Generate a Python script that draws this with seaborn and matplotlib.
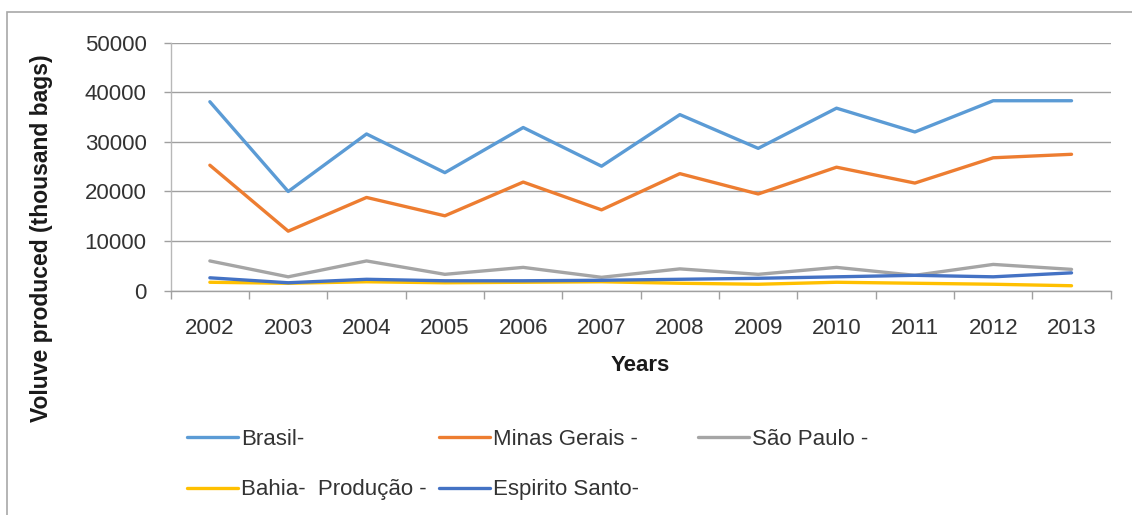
import matplotlib
matplotlib.use("Agg")
import matplotlib.pyplot as plt
import seaborn as sns
import pandas as pd
from matplotlib.patches import Rectangle
from matplotlib.ticker import MultipleLocator, FixedLocator

years = [2002, 2003, 2004, 2005, 2006, 2007, 2008, 2009, 2010, 2011, 2012, 2013]
brasil = [38100, 20000, 31600, 23800, 32900, 25100, 35500, 28700, 36800, 32000, 38300, 38300]
minas = [25300, 12000, 18800, 15100, 21900, 16300, 23600, 19500, 24900, 21700, 26800, 27500]
sao_paulo = [6000, 2800, 6000, 3300, 4700, 2700, 4400, 3300, 4700, 3100, 5300, 4300]
bahia = [1700, 1500, 1800, 1600, 1700, 1800, 1500, 1300, 1700, 1500, 1300, 1000]
espirito = [2600, 1600, 2300, 2000, 2000, 2100, 2300, 2500, 2800, 3100, 2800, 3600]

series_names = ["Brasil-", "Minas Gerais -", "São Paulo -", "Bahia-  Produção -", "Espirito Santo-"]
series_values = [brasil, minas, sao_paulo, bahia, espirito]
colors = ["#5B9BD5", "#ED7D31", "#A5A5A5", "#FFC000", "#4472C4"]

rows = []
for name, vals in zip(series_names, series_values):
    for y, v in zip(years, vals):
        rows.append({"Year": y, "Value": v, "Series": name})
df = pd.DataFrame(rows)

sns.set_theme(style="white")
plt.rcParams["font.family"] = ["Liberation Sans", "DejaVu Sans"]

W, H = 1132, 515
fig = plt.figure(figsize=(W / 100, H / 100), dpi=100)
ax = fig.add_axes([170.7 / W, 1 - 290.7 / H, 940 / W, 248 / H])

sns.lineplot(data=df, x="Year", y="Value", hue="Series", hue_order=series_names,
             palette=colors, linewidth=2.4, ax=ax, legend=False, sort=False)

ax.set_xlim(2001.5, 2013.5)
ax.set_ylim(0, 50000)
ax.yaxis.set_major_locator(MultipleLocator(10000))
ax.grid(axis="y", color="#A0A0A0", linewidth=1.0)
ax.grid(axis="x", visible=False)
ax.set_axisbelow(True)

for s in ["top", "right"]:
    ax.spines[s].set_visible(False)
ax.spines["left"].set_color("#B8B8B8")
ax.spines["bottom"].set_color("#A0A0A0")
ax.spines["left"].set_linewidth(1.0)
ax.spines["bottom"].set_linewidth(1.0)

ax.xaxis.set_major_locator(FixedLocator(years))
ax.set_xticklabels([str(y) for y in years])
ax.xaxis.set_minor_locator(FixedLocator([y + 0.5 for y in [2001] + years]))
ax.tick_params(axis="x", which="major", length=0, pad=20, labelsize=16, labelcolor="#333333")
ax.tick_params(axis="x", which="minor", bottom=True, length=5.5, width=1.0, color="#A0A0A0", direction="out")
ax.tick_params(axis="y", which="major", left=True, length=5.3, width=1.0, color="#A0A0A0",
               pad=12, labelsize=16, labelcolor="#333333")

ax.set_xlabel("Years", fontsize=16, fontweight="bold", color="#1a1a1a")
ax.xaxis.set_label_coords(0.5, (290.7 - 366) / 248)
ax.xaxis.label.set_va("center")
ax.set_ylabel("Voluve produced (thousand bags)", fontsize=16.5, fontweight="bold", color="#1a1a1a")
ax.yaxis.set_label_coords((42 - 170.7) / 940, (290.7 - 238) / 248)
ax.yaxis.label.set_va("center")

handles = {name: plt.Line2D([], [], color=c, linewidth=2.4) for name, c in zip(series_names, colors)}

def add_col(names, x_px, y_px):
    leg = fig.legend([handles[n] for n in names], names, loc="upper left",
                     bbox_to_anchor=(x_px / W, 1 - y_px / H), frameon=False,
                     fontsize=16, handlelength=2.3, handletextpad=0.15,
                     borderpad=0, borderaxespad=0, labelspacing=1.32)
    for t in leg.get_texts():
        t.set_color("#333333")
    return leg

add_col(["Brasil-", "Bahia-  Produção -"], 187, 429)
add_col(["Minas Gerais -", "Espirito Santo-"], 439, 429)
add_col(["São Paulo -"], 698, 429)

fig.patches.append(Rectangle((7 / W, -0.1), 1.2, 1 - 12 / H + 0.1, transform=fig.transFigure,
                             fill=False, edgecolor="#A8A8A8", linewidth=1.2))

fig.savefig("out.png", dpi=100)
